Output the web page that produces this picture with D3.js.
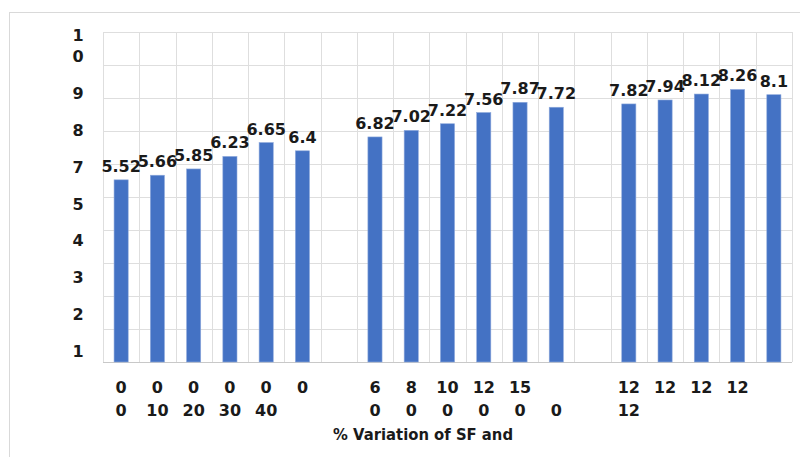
<!DOCTYPE html>
<html>
<head>
<meta charset="utf-8">
<script src="https://cdn.jsdelivr.net/npm/d3@7"></script>
<style>
  html, body { margin: 0; padding: 0; background: #fff; }
  svg { display: block; }
  text { font-family: "DejaVu Sans", sans-serif; font-weight: bold; fill: #1a1a1a; }
</style>
</head>
<body>
<svg id="chart" width="800" height="457"></svg>
<script>
// Bar values per column (null = empty spacer column between groups)
const values = [5.52, 5.66, 5.85, 6.23, 6.65, 6.4, null,
                6.82, 7.02, 7.22, 7.56, 7.87, 7.72, null,
                7.82, 7.94, 8.12, 8.26, 8.1];

// Two-line category labels (top line / bottom line)
const catTop    = ["0", "0", "0", "0", "0", "0", "", "6", "8", "10", "12", "15", "", "", "12", "12", "12", "12", ""];
const catBottom = ["0", "10", "20", "30", "40", "", "", "0", "0", "0", "0", "0", "0", "", "12", "", "", "", ""];

// Value-axis tick labels as printed (the last one wraps onto two lines)
const yTickLabels = ["1", "2", "3", "4", "5", "7", "8", "9", "1\n0"];
const yGridValues = d3.range(0, 11);

const xTitle = "% Variation of SF and";

const svg = d3.select("#chart");
const W = 800, H = 457;
const plot = { left: 103, right: 792, top: 32, bottom: 362 };

// Outer chart frame
svg.append("rect")
  .attr("x", 9.5).attr("y", 12.5)
  .attr("width", W + 10).attr("height", H + 10)
  .attr("fill", "#fff").attr("stroke", "#d9d9d9").attr("stroke-width", 1);

const y = d3.scaleLinear().domain([0, 10]).range([plot.bottom, plot.top]);
const cols = d3.range(values.length);
const x = d3.scaleBand().domain(cols).range([plot.left, plot.right]).padding(0);
const barW = x.bandwidth() * 0.39;

// Grid
const grid = svg.append("g");
grid.selectAll("line.h").data(yGridValues).join("line")
  .attr("class", "h")
  .attr("x1", plot.left).attr("x2", plot.right)
  .attr("y1", d => Math.round(y(d)) + 0.5).attr("y2", d => Math.round(y(d)) + 0.5)
  .attr("stroke", d => d === 0 ? "#c8c8c8" : "#dedede").attr("stroke-width", 1);
grid.selectAll("line.v").data(d3.range(values.length + 1)).join("line")
  .attr("class", "v")
  .attr("x1", i => Math.round(plot.left + i * x.step()) + 0.5)
  .attr("x2", i => Math.round(plot.left + i * x.step()) + 0.5)
  .attr("y1", plot.top).attr("y2", plot.bottom)
  .attr("stroke", "#dedede").attr("stroke-width", 1);

// Bars
const barData = cols.filter(i => values[i] !== null);
svg.append("g").selectAll("rect").data(barData).join("rect")
  .attr("x", i => x(i) + (x.bandwidth() - barW) / 2)
  .attr("y", i => y(values[i]))
  .attr("width", barW)
  .attr("height", i => y(0) - y(values[i]))
  .attr("fill", "#4472c4")
  .attr("stroke", "#8faadc").attr("stroke-width", 0.6);

// Value labels above the bars
svg.append("g").selectAll("text").data(barData).join("text")
  .attr("x", i => x(i) + x.bandwidth() / 2)
  .attr("y", i => y(values[i]) - 8)
  .attr("text-anchor", "middle")
  .attr("font-size", 16)
  .text(i => String(values[i]));

// Value-axis labels, spaced evenly by position in the list
const yl = d3.scaleLinear().domain([0, yTickLabels.length - 1])
  .range([plot.bottom - 11.2, plot.top + 24.4]);
const ylab = svg.append("g").selectAll("text").data(yTickLabels).join("text")
  .attr("x", 78)
  .attr("text-anchor", "middle")
  .attr("font-size", 16)
  .attr("dominant-baseline", "central");
ylab.each(function (d, i) {
  const lines = d.split("\n");
  const t = d3.select(this);
  lines.forEach((ln, k) => {
    t.append("tspan")
      .attr("x", 78)
      .attr("y", yl(i) - (lines.length - 1 - k) * 21)
      .text(ln);
  });
});

// Category labels (two lines)
const cat = svg.append("g");
cat.selectAll("text.top").data(cols).join("text")
  .attr("class", "top")
  .attr("x", i => x(i) + x.bandwidth() / 2)
  .attr("y", plot.bottom + 25)
  .attr("text-anchor", "middle")
  .attr("dominant-baseline", "central")
  .attr("font-size", 16)
  .text(i => catTop[i]);
cat.selectAll("text.bot").data(cols).join("text")
  .attr("class", "bot")
  .attr("x", i => x(i) + x.bandwidth() / 2)
  .attr("y", plot.bottom + 48)
  .attr("text-anchor", "middle")
  .attr("dominant-baseline", "central")
  .attr("font-size", 16)
  .text(i => catBottom[i]);

// Axis title
svg.append("text")
  .attr("x", 333).attr("y", 435)
  .attr("dominant-baseline", "central")
  .attr("font-size", 15)
  .attr("textLength", 180)
  .attr("lengthAdjust", "spacingAndGlyphs")
  .text(xTitle);
</script>
</body>
</html>
